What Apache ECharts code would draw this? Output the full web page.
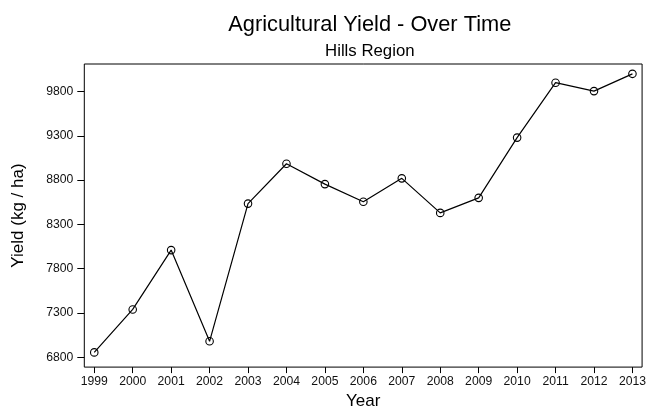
<!DOCTYPE html>
<html>
<head>
<meta charset="utf-8">
<script src="https://cdn.jsdelivr.net/npm/echarts@6/dist/echarts.min.js"></script>
<style>
html,body{margin:0;padding:0;background:#fff;}
#chart{width:649px;height:415px;}
</style>
</head>
<body>
<div id="chart"></div>
<script>
var years = [1999, 2000, 2001, 2002, 2003, 2004, 2005, 2006, 2007, 2008, 2009, 2010, 2011, 2012, 2013];
var yieldValues = [6855, 7340, 8010, 6980, 8535, 8985, 8755, 8555, 8820, 8430, 8600, 9280, 9900, 9805, 10000];
var yTicks = [6800, 7300, 7800, 8300, 8800, 9300, 9800];

var FONT = "'Liberation Sans', Arial, Helvetica, sans-serif";
var chart = echarts.init(document.getElementById('chart'), null, {renderer: 'canvas'});
var points = years.map(function (y, i) { return [y, yieldValues[i]]; });

chart.setOption({
  animation: false,
  backgroundColor: '#ffffff',
  title: [
    {text: 'Agricultural Yield - Over Time', left: 364.8, top: 9, textAlign: 'center',
     textStyle: {fontFamily: FONT, fontSize: 21.8, fontWeight: 'normal', color: '#000'}},
    {text: 'Hills Region', left: 364.8, top: 38, textAlign: 'center',
     textStyle: {fontFamily: FONT, fontSize: 16.8, fontWeight: 'normal', color: '#000'}}
  ],
  grid: {left: 84.3, right: 4, top: 64, bottom: 43.3, show: true, borderColor: '#000', borderWidth: 1, backgroundColor: 'transparent', containLabel: false},
  xAxis: {
    type: 'value', min: 1998.741, max: 2013.251,
    name: 'Year', nameLocation: 'middle', nameGap: 24,
    nameTextStyle: {fontFamily: FONT, fontSize: 17, color: '#000'},
    splitLine: {show: false},
    axisLine: {show: false},
    axisTick: {show: true, length: 6, customValues: years, lineStyle: {color: '#000', width: 1}},
    axisLabel: {customValues: years, margin: 9, fontFamily: FONT, fontSize: 12.2, color: '#111',
      formatter: function (v) { return String(Math.round(v)); }}
  },
  yAxis: {
    type: 'value', min: 6689, max: 10111,
    name: 'Yield (kg / ha)', nameLocation: 'middle', nameGap: 57,
    nameTextStyle: {fontFamily: FONT, fontSize: 17, color: '#000'},
    splitLine: {show: false},
    axisLine: {show: false},
    axisTick: {show: true, length: 7, customValues: yTicks, lineStyle: {color: '#000', width: 1}},
    axisLabel: {customValues: yTicks, margin: 11, fontFamily: FONT, fontSize: 12.2, color: '#111',
      formatter: function (v) { return String(Math.round(v)); }}
  },
  series: [{
    type: 'line',
    data: points,
    symbol: 'circle',
    symbolSize: 7.5,
    lineStyle: {color: '#000', width: 1.2},
    itemStyle: {color: 'rgba(0,0,0,0)', borderColor: '#000', borderWidth: 1.1},
    emphasis: {disabled: true}
  }]
});
</script>
</body>
</html>
